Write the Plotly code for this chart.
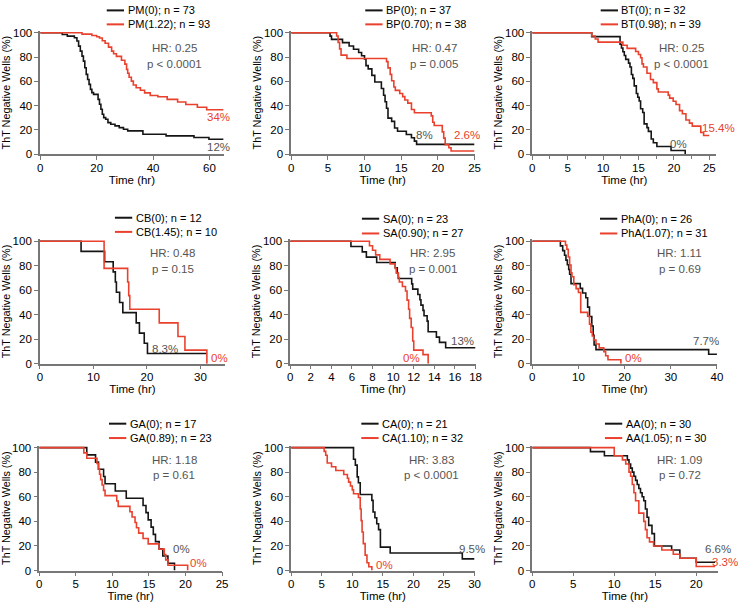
import plotly.graph_objects as go

# ---------------- DATA ----------------
# PM
PM_t0 = [0, 7.8, 9.6, 12.1, 13.0, 13.6, 14.2, 14.8, 15.3, 15.8, 16.3, 16.8, 17.3, 17.8, 18.3, 18.9, 20.5, 21.0, 21.5, 22.0, 22.5, 23.2, 24.0, 25.0, 26.5, 28.0, 29.5, 31.0, 36.4, 44.6, 54.5, 59.8, 65]
PM_s0 = [100, 98.6, 97.3, 95.9, 93.2, 89.0, 84.9, 80.8, 76.7, 71.2, 65.8, 61.6, 57.5, 53.4, 50.7, 49.3, 45.2, 41.1, 37.0, 32.9, 30.1, 28.8, 26.0, 24.7, 23.3, 21.9, 20.5, 19.2, 16.4, 15.1, 13.7, 12.3, 12.3]
PM_t1 = [0, 14.8, 18.3, 20.0, 21.0, 22.0, 23.0, 24.2, 25.3, 26.0, 27.0, 28.8, 30.0, 30.6, 31.0, 31.5, 32.3, 33.0, 34.0, 35.5, 37.0, 39.0, 41.7, 45.0, 48.7, 51.6, 55.7, 59.0, 65]
PM_s1 = [100, 98.9, 97.8, 96.8, 95.7, 93.5, 91.4, 88.2, 84.9, 82.8, 80.6, 77.4, 74.2, 69.9, 66.7, 63.4, 60.2, 57.0, 54.8, 52.7, 50.5, 48.4, 47.3, 45.2, 43.0, 40.9, 38.7, 36.6, 36.6]
# BP
BP_t0 = [0, 5.3, 5.5, 7.0, 7.9, 8.5, 9.2, 9.6, 10.0, 10.2, 10.5, 11.0, 11.4, 12.3, 12.6, 12.8, 13.0, 13.2, 13.7, 14.1, 14.5, 15.7, 16.4, 16.8, 17.1, 25]
BP_s0 = [100, 97.3, 94.6, 91.9, 89.2, 86.5, 83.8, 81.1, 78.4, 73.0, 70.3, 64.9, 59.5, 54.1, 48.6, 43.2, 37.8, 29.7, 27.0, 21.6, 18.9, 16.2, 13.5, 10.8, 8.1, 8.1]
BP_t1 = [0, 6.2, 6.4, 6.6, 6.8, 7.6, 13.0, 13.2, 13.5, 13.7, 14.0, 14.2, 14.8, 15.2, 15.5, 15.9, 16.4, 16.8, 19.1, 19.3, 19.5, 20.6, 20.8, 21.0, 21.5, 21.8, 25]
BP_s1 = [100, 97.4, 92.1, 86.8, 81.6, 78.9, 76.3, 71.1, 65.8, 60.5, 55.3, 52.6, 50.0, 47.4, 44.7, 42.1, 36.8, 34.2, 31.6, 26.3, 23.7, 18.4, 13.2, 7.9, 5.3, 2.6, 2.6]
# BT
BT_t0 = [0, 8.4, 12.4, 12.6, 12.8, 13.0, 13.2, 13.6, 13.8, 14.0, 14.2, 14.4, 14.7, 14.9, 15.1, 15.3, 15.6, 15.8, 16.2, 16.4, 16.8, 17.1, 17.6, 18.3, 19.6, 21.6]
BT_s0 = [100, 96.9, 90.6, 87.5, 84.4, 81.3, 78.1, 75.0, 71.9, 65.6, 62.5, 56.3, 50.0, 46.9, 43.8, 37.5, 34.4, 25.0, 21.9, 18.8, 12.5, 9.4, 6.3, 6.3, 3.1, 0]
BT_t1 = [0, 8.4, 8.9, 9.3, 12.8, 13.4, 14.6, 15.0, 15.3, 15.5, 15.7, 16.2, 16.7, 17.1, 17.6, 17.8, 19.2, 19.4, 19.9, 20.3, 20.8, 21.2, 21.7, 22.2, 22.6, 23.8, 24.2, 25]
BT_s1 = [100, 97.4, 94.9, 92.3, 89.7, 87.2, 84.6, 82.1, 79.5, 74.4, 71.8, 66.7, 61.5, 59.0, 53.8, 51.3, 48.7, 46.2, 43.6, 41.0, 35.9, 33.3, 28.2, 25.6, 23.1, 17.9, 15.4, 15.4]
# CB
CB_t0 = [0, 7.7, 12.1, 13.7, 14.1, 14.3, 14.9, 15.5, 18.0, 18.6, 19.5, 20.1, 31.2]
CB_s0 = [100, 91.7, 83.3, 75.0, 66.7, 58.3, 50.0, 41.7, 33.3, 25.0, 16.7, 8.3, 8.3]
CB_t1 = [0, 12.0, 16.4, 16.6, 16.8, 22.3, 25.8, 27.1, 31.2]
CB_s1 = [100, 77.8, 66.7, 55.6, 44.4, 33.3, 22.2, 11.1, 0]
# SA
SA_t0 = [0, 5.9, 7.0, 7.4, 8.4, 10.2, 10.4, 10.5, 11.8, 11.9, 12.4, 12.6, 12.7, 12.9, 13.0, 13.3, 13.4, 14.2, 14.5, 15.1, 18]
SA_s0 = [100, 95.7, 91.3, 87.0, 82.6, 78.3, 73.9, 69.6, 65.2, 60.9, 56.5, 52.2, 47.8, 43.5, 39.1, 34.8, 26.1, 21.7, 17.4, 13.0, 13.0]
SA_t1 = [0, 7.7, 8.0, 8.3, 8.7, 9.7, 10.2, 10.3, 10.5, 10.6, 10.9, 11.2, 11.35, 11.5, 11.6, 11.75, 11.9, 12.0, 12.9, 13.4]
SA_s1 = [100, 96.3, 92.6, 88.9, 85.2, 81.5, 77.8, 74.1, 70.4, 66.7, 63.0, 59.3, 51.9, 44.4, 37.0, 29.6, 18.5, 11.1, 7.4, 0]
# PhA
PhA_t0 = [0, 6.1, 6.6, 7.0, 7.3, 7.6, 7.9, 8.1, 8.4, 10.4, 10.9, 11.6, 12.0, 12.4, 12.9, 13.2, 13.4, 13.8, 38.2, 40]
PhA_s0 = [100, 96.2, 92.3, 88.5, 84.6, 80.8, 76.9, 73.1, 65.4, 61.5, 57.7, 53.8, 46.2, 38.5, 30.8, 23.1, 15.4, 11.5, 7.7, 7.7]
PhA_t1 = [0, 7.2, 7.5, 7.8, 8.1, 8.4, 8.6, 9.0, 9.5, 10.0, 10.5, 12.0, 12.4, 12.7, 13.0, 13.3, 13.8, 14.5, 15.5, 15.9, 16.4, 19.2]
PhA_s1 = [100, 96.8, 93.5, 87.1, 80.6, 74.2, 71.0, 64.5, 61.3, 58.1, 41.9, 38.7, 32.3, 25.8, 22.6, 19.4, 16.1, 12.9, 9.7, 6.5, 3.2, 0]
# GA
GA_t0 = [0, 6.5, 7.7, 8.1, 8.8, 9.0, 10.4, 11.9, 14.2, 14.6, 14.9, 15.3, 15.6, 15.9, 16.4, 16.9, 17.6, 18.5]
GA_s0 = [100, 94.1, 88.2, 82.4, 76.5, 70.6, 64.7, 58.8, 52.9, 47.1, 41.2, 35.3, 29.4, 23.5, 17.6, 11.8, 5.9, 0]
GA_t1 = [0, 6.1, 6.5, 7.9, 8.1, 8.25, 8.4, 8.6, 8.8, 9.0, 10.6, 10.8, 12.4, 12.7, 13.1, 13.3, 13.6, 14.2, 14.9, 16.4, 17.1, 17.3, 17.6, 20.3]
GA_s1 = [100, 95.7, 91.3, 87.0, 82.6, 78.3, 73.9, 69.6, 65.2, 60.9, 56.5, 52.2, 47.8, 43.5, 39.1, 34.8, 30.4, 26.1, 21.7, 17.4, 13.0, 8.7, 4.3, 0]
# CA
CA_t0 = [0, 10.2, 10.5, 10.8, 11.0, 11.3, 13.2, 13.4, 13.7, 14.0, 14.3, 14.6, 16.2, 28.0, 30]
CA_s0 = [100, 90.5, 85.7, 76.2, 71.4, 61.9, 57.1, 47.6, 42.9, 38.1, 33.3, 19.0, 14.3, 9.5, 9.5]
CA_t1 = [0, 5.4, 5.65, 5.9, 6.6, 7.3, 8.6, 9.2, 9.4, 9.7, 10.0, 10.2, 11.0, 11.3, 11.45, 11.6, 11.8, 12.1, 12.4, 12.7, 13.2]
CA_s1 = [100, 96.9, 93.8, 87.5, 84.4, 81.3, 78.1, 75.0, 71.9, 68.8, 65.6, 62.5, 59.4, 50.0, 40.6, 31.3, 21.9, 12.5, 6.3, 3.1, 0]
# AA
AA_t0 = [0, 7.1, 8.8, 11.6, 11.8, 12.0, 12.2, 12.4, 12.6, 12.8, 13.0, 13.2, 13.4, 13.6, 13.8, 14.0, 14.2, 14.6, 14.9, 17.0, 18.0, 20.0, 22.3]
AA_s0 = [100, 96.7, 93.3, 90.0, 86.7, 83.3, 80.0, 76.7, 73.3, 70.0, 66.7, 63.3, 60.0, 56.7, 50.0, 43.3, 36.7, 30.0, 20.0, 16.7, 10.0, 6.7, 6.7]
AA_t1 = [0, 10.0, 11.0, 11.4, 11.8, 12.0, 12.2, 12.4, 12.6, 13.0, 13.6, 13.8, 14.0, 14.3, 14.8, 15.8, 17.2, 18.0, 20.0, 22.3]
AA_s1 = [100, 93.3, 90.0, 86.7, 80.0, 76.7, 70.0, 63.3, 56.7, 46.7, 40.0, 33.3, 26.7, 23.3, 20.0, 16.7, 13.3, 10.0, 3.3, 3.3]

legend0 = ["PM(0); n = 73", "BP(0); n = 37", "BT(0); n = 32", "CB(0); n = 12", "SA(0); n = 23",
           "PhA(0); n = 26", "GA(0); n = 17", "CA(0); n = 21", "AA(0); n = 30"]
legend1 = ["PM(1.22); n = 93", "BP(0.70); n = 38", "BT(0.98); n = 39", "CB(1.45); n = 10", "SA(0.90); n = 27",
           "PhA(1.07); n = 31", "GA(0.89); n = 23", "CA(1.10); n = 32", "AA(1.05); n = 30"]
hr_text = ["HR: 0.25", "HR: 0.47", "HR: 0.25", "HR: 0.48", "HR: 2.95", "HR: 1.11", "HR: 1.18", "HR: 3.83", "HR: 1.09"]
p_text = ["p < 0.0001", "p = 0.005", "p < 0.0001", "p = 0.15", "p = 0.001", "p = 0.69", "p = 0.61", "p < 0.0001", "p = 0.72"]
end0 = ["12%", "8%", "0%", "8.3%", "13%", "7.7%", "0%", "9.5%", "6.6%"]
end1 = ["34%", "2.6%", "15.4%", "0%", "0%", "0%", "0%", "0%", "3.3%"]
x_max = [65, 25, 26, 34.6, 18, 40, 25, 30, 22.6]
x_dtick = [20, 5, 5, 10, 2, 10, 5, 5, 5]
y_ticks = [0, 20, 40, 60, 80, 100]

series = [(PM_t0, PM_s0, PM_t1, PM_s1), (BP_t0, BP_s0, BP_t1, BP_s1), (BT_t0, BT_s0, BT_t1, BT_s1),
          (CB_t0, CB_s0, CB_t1, CB_s1), (SA_t0, SA_s0, SA_t1, SA_s1), (PhA_t0, PhA_s0, PhA_t1, PhA_s1),
          (GA_t0, GA_s0, GA_t1, GA_s1), (CA_t0, CA_s0, CA_t1, CA_s1), (AA_t0, AA_s0, AA_t1, AA_s1)]

# ---------------- LAYOUT GEOMETRY (pixels in the 745x608 window) ----------------
W, H = 745, 608
BLACK = "#151515"
RED = "#e9412d"
GRAY = "#555555"
AX = "#777777"
FONT = "Liberation Sans, Arial, sans-serif"
FS = 11.5

xpix = [(37.7, 223.3), (291.7, 477.3), (535.7, 722.1),
        (37.3, 224.8), (290.7, 478.3), (535.7, 722.7),
        (36.7, 221.7), (291.7, 477.3), (535.7, 723.3)]
ypix = [(152.7, 29.3), (365.7, 241.2), (576.0, 451.0)]
YTOP = 101.5

leg_x = [105.0, 366.7, 605.0, 113.3, 363.3, 604.3, 107.3, 362.7, 609.3]
leg_y = [(6.5, 20.7), (6.5, 20.7), (6.5, 20.7), (217.3, 231.7), (218.3, 233.3), (218.3, 233.3),
         (426.7, 441.3), (426.7, 441.3), (426.7, 441.3)]
hr_pos = [(173.3, 45), (436.7, 45), (686.7, 45), (171.7, 253.3), (435, 253.3), (685, 253.3),
          (173.3, 463.3), (433.3, 463.3), (685, 463.3)]
end0_pos = [(218.3, 145), (426.7, 133), (683.3, 142), (164, 351), (465, 343), (711.7, 343),
            (181, 554), (475, 554), (724, 554)]
end1_pos = [(218.3, 115), (470, 133), (724, 126), (219.3, 360), (414, 360), (638.3, 360),
            (198.3, 568.3), (385.7, 570), (731, 567.5)]


def px(x):
    return x / W


def py(y):
    return 1 - y / H


fig = go.Figure()
layout = dict(width=W, height=H, margin=dict(l=0, r=0, t=0, b=0),
              paper_bgcolor="white", plot_bgcolor="white", showlegend=False, hovermode=False,
              font=dict(family=FONT, size=FS, color="black"))
annotations = []
shapes = []

for i in range(9):
    r = i // 3
    k = "" if i == 0 else str(i + 1)
    xa, ya = "x" + k, "y" + k
    t0, s0, t1, s1 = series[i]
    fig.add_trace(go.Scatter(x=t0, y=s0, mode="lines", line=dict(color=BLACK, width=1.6, shape="hv"),
                             xaxis=xa, yaxis=ya, name=legend0[i]))
    fig.add_trace(go.Scatter(x=t1, y=s1, mode="lines", line=dict(color=RED, width=1.6, shape="hv"),
                             xaxis=xa, yaxis=ya, name=legend1[i]))
    x0, x1 = xpix[i]
    y0, y100 = ypix[r]
    ytop = y0 - YTOP * (y0 - y100) / 100
    xaxis = dict(domain=[px(x0), px(x1)], range=[0, x_max[i]], anchor=ya, dtick=x_dtick[i], tick0=0,
                 showline=True, linecolor=AX, linewidth=1.5, ticks="outside", ticklen=4, tickwidth=1.2,
                 tickcolor=AX, showgrid=False, zeroline=False, tickfont=dict(size=FS, color="black"),
                 ticklabelstandoff=-2,
                 title=dict(text="Time (hr)", font=dict(size=FS, color="black"), standoff=3))
    if i == 2:
        xaxis["minor"] = dict(dtick=2.5, ticklen=3, tickcolor=AX, showgrid=False)
    yaxis = dict(domain=[py(y0), py(ytop)], range=[0, YTOP], anchor=xa, tickvals=y_ticks,
                 showline=True, linecolor=AX, linewidth=1.5, ticks="outside", ticklen=4, tickwidth=1.2,
                 tickcolor=AX, showgrid=False, zeroline=False, tickfont=dict(size=FS, color="black"),
                 title=dict(text="ThT Negative Wells (%)", font=dict(size=10.8, color="black"), standoff=0))
    layout["xaxis" + k] = xaxis
    layout["yaxis" + k] = yaxis

    lx = leg_x[i]
    for j, (txt, col) in enumerate([(legend0[i], BLACK), (legend1[i], RED)]):
        yy = leg_y[i][j]
        shapes.append(dict(type="line", xref="paper", yref="paper", x0=px(lx), x1=px(lx + 17.5),
                           y0=py(yy), y1=py(yy), line=dict(color=col, width=2)))
        annotations.append(dict(text=txt, xref="paper", yref="paper", x=px(lx + 19), y=py(yy),
                                xanchor="left", yanchor="middle", showarrow=False,
                                font=dict(size=11, color="black")))
    hx, hy = hr_pos[i]
    annotations.append(dict(text=hr_text[i], xref="paper", yref="paper", x=px(hx), y=py(hy),
                            xanchor="center", yanchor="middle", showarrow=False, font=dict(size=FS, color=GRAY)))
    annotations.append(dict(text=p_text[i], xref="paper", yref="paper", x=px(hx), y=py(hy + 16),
                            xanchor="center", yanchor="middle", showarrow=False, font=dict(size=FS, color=GRAY)))
    ex, ey = end0_pos[i]
    annotations.append(dict(text=end0[i], xref="paper", yref="paper", x=px(ex), y=py(ey),
                            xanchor="center", yanchor="middle", showarrow=False, font=dict(size=11.5, color=GRAY)))
    ex, ey = end1_pos[i]
    annotations.append(dict(text=end1[i], xref="paper", yref="paper", x=px(ex), y=py(ey),
                            xanchor="center", yanchor="middle", showarrow=False, font=dict(size=11.5, color=RED)))

layout["annotations"] = annotations
layout["shapes"] = shapes
fig.update_layout(**layout)
# the page's default 8px body margin would push the 745x608 figure out of the window
fig.write_html("out.html", config={"displayModeBar": False},
               post_script="document.body.style.margin='0';")
